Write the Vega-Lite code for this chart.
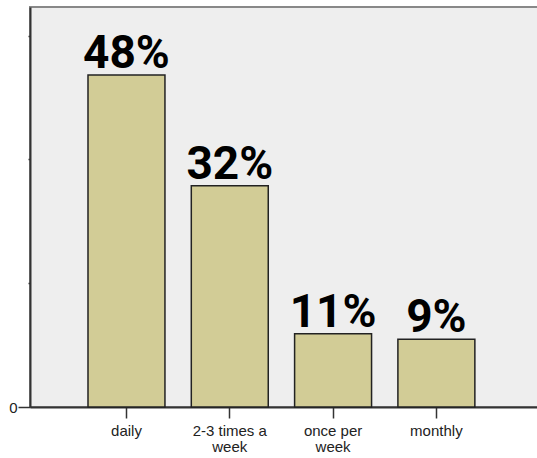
{
  "$schema": "https://vega.github.io/schema/vega-lite/v6.json",
  "width": 510,
  "height": 400,
  "autosize": {"type": "none"},
  "padding": {"left": 30, "top": 7, "right": 0, "bottom": 51},
  "background": "white",
  "config": {
    "view": {"fill": "#eeeeee", "stroke": "#888888", "strokeWidth": 2}
  },
  "data": {
    "values": [
      {"freq": "daily", "pct": 48.0, "label": "48%"},
      {"freq": "2-3 times a week", "pct": 32.0, "label": "32%"},
      {"freq": "once per week", "pct": 10.6, "label": "11%"},
      {"freq": "monthly", "pct": 9.8, "label": "9%"}
    ]
  },
  "encoding": {
    "x": {
      "field": "freq",
      "type": "nominal",
      "sort": null,
      "scale": {"paddingInner": 0.255, "paddingOuter": 0.596, "align": 0.471},
      "axis": {
        "title": null,
        "labelAngle": 0,
        "labelFont": "Liberation Sans",
        "labelFontSize": 15,
        "labelColor": "#222222",
        "labelPadding": 5,
        "labelLineHeight": 16,
        "labelBaseline": "top",
        "tickSize": 11,
        "tickWidth": 1.5,
        "tickColor": "#333333",
        "domainColor": "#333333",
        "domainWidth": 2,
        "labelExpr": "datum.value == '2-3 times a week' ? ['2-3 times a', 'week'] : datum.value == 'once per week' ? ['once per', 'week'] : datum.value"
      }
    },
    "y": {
      "field": "pct",
      "type": "quantitative",
      "scale": {"domain": [0, 57.83], "nice": false, "zero": true},
      "axis": {
        "title": null,
        "grid": false,
        "values": [0, 17.9, 35.8, 53.6],
        "labelExpr": "datum.value === 0 ? '0' : ''",
        "labelFont": "Liberation Sans",
        "labelFontSize": 15,
        "labelColor": "#222222",
        "labelPadding": 1,
        "tickSize": {"condition": {"test": "datum.value === 0", "value": 12}, "value": 2},
        "tickColor": "#333333",
        "tickWidth": 1.5,
        "domainColor": "#333333",
        "domainWidth": 2
      }
    }
  },
  "layer": [
    {
      "mark": {"type": "bar", "fill": "#d2cc96", "stroke": "#222222", "strokeWidth": 1.5}
    },
    {
      "mark": {
        "type": "text",
        "baseline": "alphabetic",
        "dy": -7,
        "font": "Roboto",
        "fontWeight": "bold",
        "fontSize": 46,
        "color": "#000000"
      },
      "encoding": {"text": {"field": "label"}}
    }
  ]
}
